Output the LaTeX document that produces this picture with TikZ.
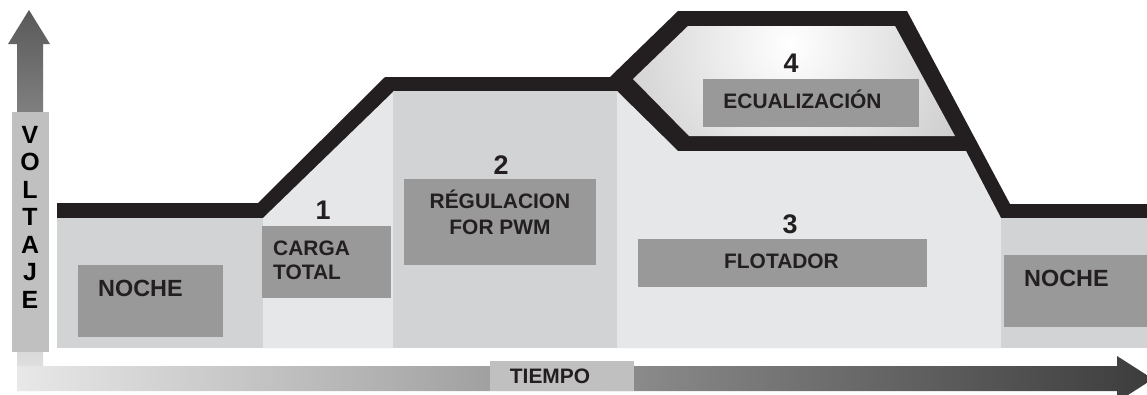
\documentclass[tikz,border=0pt]{standalone}
\usepackage{fontspec}
\setmainfont{Liberation Sans}
\definecolor{band}{HTML}{231F20}
\definecolor{lite}{HTML}{E6E7E8}
\definecolor{mid}{HTML}{D1D3D4}
\definecolor{lbl}{HTML}{999999}
\definecolor{axisbox}{HTML}{C0C0C0}
\definecolor{arrdark}{HTML}{3C3C3C}
\definecolor{arrlite}{HTML}{E8E8E8}
\begin{document}
\begin{tikzpicture}[x=1bp,y=-1bp,
  txt/.style={font=\fontsize{21}{25}\selectfont\bfseries, text=band, inner sep=0},
  bigtxt/.style={font=\fontsize{23.5}{28}\selectfont\bfseries, text=band, inner sep=0},
  numtxt/.style={font=\fontsize{27}{30}\selectfont\bfseries, text=band, inner sep=0},
  axtxt/.style={font=\fontsize{25}{28}\selectfont\bfseries, text=black, inner sep=0},
  lblbox/.style={fill=lbl, draw=none},
  axbox/.style={fill=axisbox, draw=none}]
\useasboundingbox (0,0) rectangle (1147,394);
\clip (0,0) rectangle (1147,394);
\fill[white] (0,0) rectangle (1147,394);

% axes arrows
\shade[top color=arrdark!85, bottom color=arrlite]
  (17,391) -- (17,44) -- (8,44) -- (29,10) -- (50,44) -- (43,44) -- (43,391) -- cycle;
\shade[left color=arrlite, right color=arrdark]
  (17,366) -- (1117,366) -- (1117,356) -- (1153,379) -- (1117,402) -- (1117,391) -- (17,391) -- cycle;

% black band (outline of the voltage curve)
\fill[band] (57,203) -- (258,203) -- (385,77) -- (610,77) -- (678,11) -- (907,11)
  -- (1010,204) -- (1147,204) -- (1147,240) -- (57,240) -- cycle;

% stage regions
\fill[mid]  (57,218) rectangle (263,348);
\fill[lite] (263,218) -- (393,92) -- (393,348) -- (263,348) -- cycle;
\fill[mid]  (393,91) rectangle (617,348);
\fill[lite] (617,91) -- (678,151) -- (966,151) -- (1001,218) -- (1001,348) -- (617,348) -- cycle;
\fill[mid]  (1001,218) rectangle (1147,348);
\path[path picture={\shade[inner color=white, outer color=black!30] (790,45) circle[radius=290bp];}]
  (633,79) -- (688,26) -- (895,26) -- (955,136) -- (689,136) -- cycle;

% label boxes
\fill[lblbox] (78,265) rectangle (223,337);
\fill[lblbox] (262,226) rectangle (391,298);
\fill[lblbox] (404,179) rectangle (596,265);
\fill[lblbox] (638,239) rectangle (927,287);
\fill[lblbox] (703,79) rectangle (919,127);
\fill[lblbox] (1004,255) rectangle (1150,327);
\fill[axbox] (12,112) rectangle (49,352);
\fill[axbox] (490,361) rectangle (634,391);

% texts
\node[bigtxt, anchor=base west] (noche1) at (98,296) {NOCHE};
\node[bigtxt, anchor=base west] (noche2) at (1024,286) {NOCHE};
\node[txt, anchor=base west] (carga) at (273,255) {CARGA};
\node[txt, anchor=base west] (total) at (273,279) {TOTAL};
\node[txt, anchor=base] (regul) at (500,208) {RÉGULACION};
\node[txt, anchor=base] (pwm) at (500,234) {FOR PWM};
\node[txt, anchor=base] (flot) at (781.5,268) {FLOTADOR};
\node[txt, anchor=base] (ecual) at (802.5,108) {ECUALIZACIÓN};
\node[txt, anchor=base] (tiempo) at (550,383) {TIEMPO};
\node[numtxt, anchor=base] (n1) at (323,219) {1};
\node[numtxt, anchor=base] (n2) at (501,174) {2};
\node[numtxt, anchor=base] (n3) at (790,233) {3};
\node[numtxt, anchor=base] (n4) at (791,72) {4};
\foreach \ch [count=\i from 0] in {V,O,L,T,A,J,E}{
  \node[axtxt, anchor=base] (volt\i) at (30,143+27.5*\i) {\ch};
}
\end{tikzpicture}
\end{document}
